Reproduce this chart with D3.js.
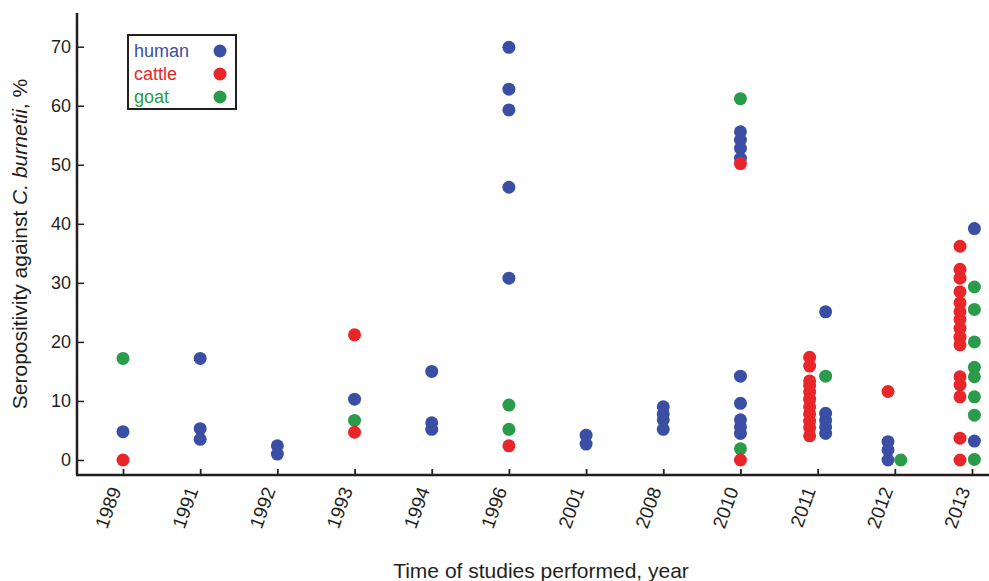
<!DOCTYPE html>
<html>
<head>
<meta charset="utf-8">
<script src="https://cdn.jsdelivr.net/npm/d3@7"></script>
<style>
  body { margin: 0; background: #fff; }
  svg { display: block; }
</style>
</head>
<body>
<svg id="chart" width="989" height="581"></svg>
<script>
// Categories (study years) and y ticks
const years = ["1989", "1991", "1992", "1993", "1994", "1996", "2001", "2008", "2010", "2011", "2012", "2013"];
const yTicks = [0, 10, 20, 30, 40, 50, 60, 70];

// Seropositivity values, [year, %]
const human = [
  ["1989", 4.8],
  ["1991", 17.2], ["1991", 5.3], ["1991", 3.5],
  ["1992", 2.4], ["1992", 1.0],
  ["1993", 10.3],
  ["1994", 15.0], ["1994", 6.3], ["1994", 5.2],
  ["1996", 69.9], ["1996", 62.8], ["1996", 59.3], ["1996", 46.2], ["1996", 30.8],
  ["2001", 4.2], ["2001", 2.7],
  ["2008", 9.0], ["2008", 7.8], ["2008", 6.8], ["2008", 5.2],
  ["2010", 55.6], ["2010", 54.2], ["2010", 52.8], ["2010", 51.1],
  ["2010", 14.2], ["2010", 9.6], ["2010", 6.8], ["2010", 5.6], ["2010", 4.5],
  ["2011", 25.1], ["2011", 7.9], ["2011", 6.7], ["2011", 5.6], ["2011", 4.5],
  ["2012", 3.1], ["2012", 1.7], ["2012", 0],
  ["2013", 39.2], ["2013", 3.2]
];
const cattle = [
  ["1989", 0],
  ["1993", 21.2], ["1993", 4.7],
  ["1996", 2.4],
  ["2010", 50.2], ["2010", 0],
  ["2011", 17.4], ["2011", 15.9], ["2011", 13.4], ["2011", 12.6], ["2011", 11.5],
  ["2011", 10.3], ["2011", 9.0], ["2011", 7.8], ["2011", 6.6], ["2011", 5.5], ["2011", 4.1],
  ["2012", 11.6],
  ["2013", 36.2], ["2013", 32.3], ["2013", 30.8], ["2013", 28.5], ["2013", 26.6],
  ["2013", 25.1], ["2013", 23.8], ["2013", 22.3], ["2013", 20.8], ["2013", 19.5],
  ["2013", 14.1], ["2013", 12.7], ["2013", 10.7], ["2013", 3.7], ["2013", 0]
];
const goat = [
  ["1989", 17.2],
  ["1993", 6.7],
  ["1996", 9.3], ["1996", 5.2],
  ["2010", 61.2], ["2010", 1.9],
  ["2011", 14.2],
  ["2012", 0],
  ["2013", 29.3], ["2013", 25.5], ["2013", 20.0], ["2013", 15.7], ["2013", 14.1],
  ["2013", 10.7], ["2013", 7.6], ["2013", 0.1]
];

// Side-by-side columns in crowded years (negative left, positive right)
const lanes = {
  "2011": { human: 1, cattle: -1, goat: 1 },
  "2012": { human: -0.85, cattle: -0.85, goat: 0.75 },
  "2013": { human: 0.3, cattle: -1.5, goat: 0.3 }
};

const series = [
  { name: "human", color: "#3a4fa3", data: human },
  { name: "goat", color: "#2a9b4b", data: goat },
  { name: "cattle", color: "#e8262a", data: cattle }
];
const legendOrder = ["human", "cattle", "goat"];

const FONT = "'Liberation Sans Narrow', 'Arial Narrow', 'Liberation Sans', sans-serif";
const AXIS_COLOR = "#231f20";

const svg = d3.select("#chart");

// Scales
const x = d3.scalePoint().domain(years).range([123, 972]);
const y = d3.scaleLinear().domain([0, 70]).range([460, 46.7]);
const laneOffset = d3.scaleLinear().domain([-1, 1]).range([-8, 8]);

const axisLeft = 77;
const axisBottom = 475;

// Y axis: ticks pointing inward
const yAxis = svg.append("g")
  .attr("transform", `translate(${axisLeft},0)`)
  .call(d3.axisRight(y).tickValues(yTicks).tickSize(7));
yAxis.select(".domain").remove();
yAxis.selectAll(".tick line").attr("stroke", AXIS_COLOR).attr("stroke-width", 1.5);
yAxis.selectAll(".tick text")
  .attr("text-anchor", "end")
  .attr("x", -6)
  .attr("fill", AXIS_COLOR)
  .style("font-family", FONT)
  .style("font-size", "18px");

// X axis: ticks pointing inward, rotated labels
const xAxis = svg.append("g")
  .attr("transform", `translate(0,${axisBottom})`)
  .call(d3.axisTop(x).tickSize(6));
xAxis.select(".domain").remove();
xAxis.selectAll(".tick line").attr("stroke", AXIS_COLOR).attr("stroke-width", 1.8);
xAxis.selectAll(".tick text")
  .attr("text-anchor", "end")
  .attr("fill", AXIS_COLOR)
  .attr("x", 0)
  .attr("y", 0)
  .attr("dy", 0)
  .attr("transform", "translate(-2,15) rotate(-70)")
  .style("font-family", FONT)
  .style("font-size", "19px");

// Axis lines
svg.append("line")
  .attr("x1", axisLeft).attr("x2", axisLeft)
  .attr("y1", 13).attr("y2", axisBottom)
  .attr("stroke", AXIS_COLOR).attr("stroke-width", 2.5);
svg.append("line")
  .attr("x1", axisLeft - 1).attr("x2", 989)
  .attr("y1", axisBottom).attr("y2", axisBottom)
  .attr("stroke", AXIS_COLOR).attr("stroke-width", 2.5);

// Axis titles
const yTitle = svg.append("text")
  .attr("transform", `translate(27,${244}) rotate(-90)`)
  .attr("text-anchor", "middle")
  .attr("fill", AXIS_COLOR)
  .style("font-family", FONT)
  .style("font-size", "21px");
yTitle.append("tspan").text("Seropositivity against ");
yTitle.append("tspan").attr("font-style", "italic").text("C. burnetii");
yTitle.append("tspan").text(", %");

svg.append("text")
  .attr("x", 541).attr("y", 578)
  .attr("text-anchor", "middle")
  .attr("fill", AXIS_COLOR)
  .style("font-family", FONT)
  .style("font-size", "21px")
  .text("Time of studies performed, year");

// Dots
series.forEach((s) => {
  svg.append("g")
    .selectAll("circle")
    .data(s.data)
    .join("circle")
    .attr("cx", (d) => x(d[0]) + laneOffset(lanes[d[0]] ? lanes[d[0]][s.name] : 0))
    .attr("cy", (d) => y(d[1]))
    .attr("r", 6.5)
    .attr("fill", s.color);
});

// Legend
const legend = svg.append("g").attr("transform", "translate(128,35)");
legend.append("rect")
  .attr("width", 108).attr("height", 74)
  .attr("fill", "#fff")
  .attr("stroke", AXIS_COLOR).attr("stroke-width", 2);
legendOrder.forEach((name, i) => {
  const s = series.find((d) => d.name === name);
  const row = legend.append("g").attr("transform", `translate(0,${16 + i * 23})`);
  row.append("text")
    .attr("x", 6).attr("y", 6)
    .attr("fill", s.color)
    .style("font-family", FONT)
    .style("font-size", "18px")
    .text(name);
  row.append("circle")
    .attr("cx", 92).attr("cy", 0)
    .attr("r", 6.5)
    .attr("fill", s.color);
});
</script>
</body>
</html>
